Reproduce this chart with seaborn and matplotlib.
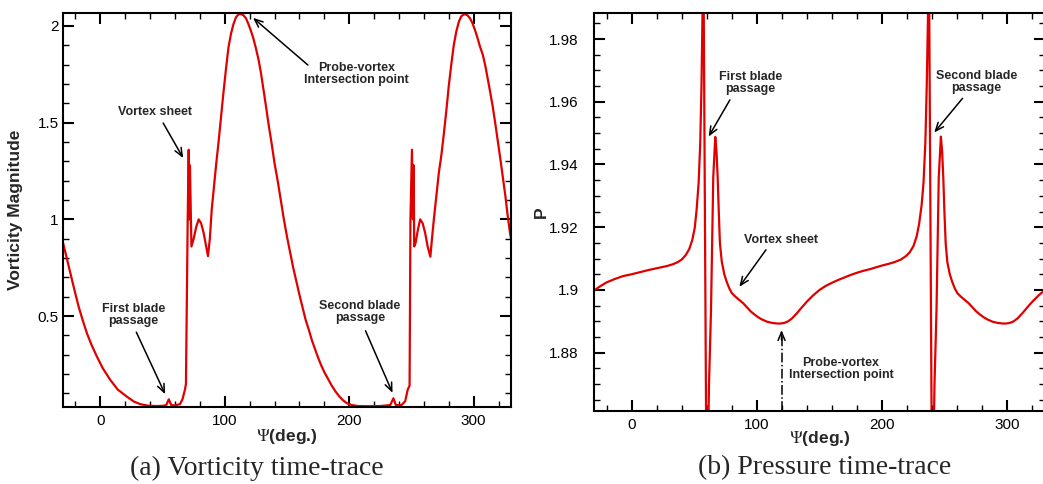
import numpy as np
import pandas as pd
import matplotlib
matplotlib.use("Agg")
import matplotlib.pyplot as plt
from matplotlib.ticker import MultipleLocator, FormatStrFormatter
import seaborn as sns

# ---------------- data ----------------
vort_psi = [-30, -27, -24, -21, -17.4, -14, -10.7, -7, -2.7, 2, 8, 14, 21.4, 27, 32, 38,
            45, 50, 53, 55, 57, 60, 64, 66, 68,
            68.8, 70.2, 71.0, 71.6, 72.0, 73.2, 75, 77, 79, 81, 83, 85, 86.5,
            88, 89.5, 91, 93, 95, 97, 99, 101, 103, 105, 107, 109, 111, 113, 115, 117, 119,
            121, 123, 125, 127, 129, 131, 133, 135, 137.7, 140, 142.5, 145, 147.5, 150,
            152.5, 155, 157.5, 160, 162.5, 165, 167.5, 170, 172.5, 175, 177.5, 180, 183,
            186, 189, 192, 195, 198, 202, 207, 215, 225, 233, 235.5, 237.5, 242, 245, 247, 248.5,
            249.2, 250.4, 251.2, 251.8, 252.2, 253.4, 255, 257, 259, 261, 263, 265.2,
            266.5, 268, 270, 272, 274, 276, 278, 280, 282, 284, 286, 288, 290, 292.7, 295,
            297, 299, 301, 303, 305, 307.4, 309.5, 311.5, 313.5, 315.4, 317.5, 319.5, 321.5,
            323.4, 325.5, 327.5, 329, 330]
vort_mag = [0.88, 0.8, 0.72, 0.64, 0.548, 0.475, 0.41, 0.35, 0.29, 0.23, 0.17, 0.12, 0.083, 0.058, 0.045, 0.037,
            0.035, 0.036, 0.04, 0.07, 0.04, 0.038, 0.045, 0.07, 0.12,
            0.15, 1.0, 1.36, 1.0, 1.28, 0.86, 0.9, 0.96, 1.0, 0.98, 0.93, 0.86, 0.81,
            0.9, 1.05, 1.15, 1.28, 1.40, 1.53, 1.66, 1.78, 1.89, 1.96, 2.01, 2.045, 2.06, 2.062, 2.055, 2.04, 2.01,
            1.975, 1.935, 1.885, 1.83, 1.76, 1.675, 1.59, 1.5, 1.39, 1.29, 1.2, 1.1, 1.0, 0.91,
            0.83, 0.75, 0.68, 0.61, 0.545, 0.48, 0.43, 0.375, 0.33, 0.285, 0.245, 0.21, 0.175,
            0.14, 0.11, 0.085, 0.065, 0.05, 0.04, 0.035, 0.034, 0.035, 0.04, 0.075, 0.04, 0.04, 0.06, 0.12, 0.14,
            1.0, 1.36, 1.0, 1.28, 0.86, 0.88, 0.94, 1.0, 0.98, 0.93, 0.86, 0.807,
            0.9, 1.0, 1.12, 1.24, 1.33, 1.44, 1.56, 1.69, 1.8, 1.9, 1.97, 2.02, 2.05, 2.062, 2.055,
            2.04, 2.015, 1.98, 1.94, 1.895, 1.85, 1.79, 1.72, 1.65, 1.58, 1.49, 1.4, 1.31,
            1.22, 1.12, 1.01, 0.94, 0.9]

pres_psi = [-30, -25, -20, -14, -7, 0, 7, 14, 21, 28, 33, 37, 40, 43, 46, 48.5, 50.5, 52, 53.5,
            54.8, 55.8, 56.5, 57.3, 59.6, 60.8, 61.8, 63.4, 65.2, 66.8, 67.8, 68.7, 69.6, 70.5,
            72, 74, 76, 78, 80, 83, 86, 89, 92, 95, 98, 101, 104, 108, 112, 116, 119, 122, 125,
            128, 132, 136, 140, 145, 150, 155, 160, 165, 170, 175, 180, 185, 190, 195, 200, 205,
            210, 215, 219, 222, 225, 227.5, 229.5, 231.5, 233, 234.5, 235.6, 236.5, 237.3,
            239.6, 240.8, 241.8, 243.4, 245.2, 246.9, 247.9, 248.8, 249.7, 250.7, 252, 254,
            256, 258, 260, 263, 266, 269, 272, 275, 278, 281, 284, 288, 292, 296, 299, 302,
            305, 308, 312, 316, 320, 325, 330]
pres_val = [1.8998, 1.9012, 1.9024, 1.9034, 1.9044, 1.905, 1.9057, 1.9064, 1.907, 1.9076, 1.9082, 1.9089, 1.9097, 1.911, 1.913, 1.916, 1.92, 1.926, 1.934,
            1.9468, 1.965, 1.985, 2.01, 1.85, 1.845, 1.87, 1.8936, 1.936, 1.9488, 1.944, 1.936, 1.925, 1.915,
            1.909, 1.905, 1.9025, 1.9005, 1.899, 1.8978, 1.8968, 1.8958, 1.8945, 1.8932, 1.8922, 1.8913, 1.8906, 1.8899, 1.8895, 1.8893, 1.8893, 1.8895, 1.8900,
            1.8909, 1.8926, 1.8945, 1.8963, 1.8983, 1.9, 1.9013, 1.9023, 1.9032, 1.904, 1.9048, 1.9055, 1.9061, 1.9066, 1.9072, 1.9078, 1.9083,
            1.9089, 1.9097, 1.9108, 1.912, 1.914, 1.917, 1.921, 1.927, 1.934, 1.947, 1.965, 1.985, 2.01,
            1.85, 1.845, 1.87, 1.8936, 1.936, 1.9489, 1.944, 1.936, 1.925, 1.915, 1.909, 1.905,
            1.9025, 1.9005, 1.899, 1.8978, 1.8968, 1.8958, 1.8945, 1.8932, 1.8922, 1.8913, 1.8906, 1.8899, 1.8895, 1.8893, 1.8893, 1.8895,
            1.8900, 1.8909, 1.8926, 1.8945, 1.8963, 1.8983, 1.9]

vort_yticks = [0.5, 1, 1.5, 2]
pres_yticks = [1.88, 1.9, 1.92, 1.94, 1.96, 1.98]
xticks = [0, 100, 200, 300]

# ---------------- style ----------------
sns.set_style("ticks")
plt.rcParams['font.family'] = ['Liberation Sans', 'DejaVu Sans']
plt.rcParams['mathtext.fontset'] = 'stix'

RED = '#e00000'
W, H = 1043, 484
fig = plt.figure(figsize=(W / 100, H / 100), dpi=100)

def px_axes(x0, y0, x1, y1):
    return fig.add_axes([x0 / W, 1 - y1 / H, (x1 - x0) / W, (y1 - y0) / H])

axL = px_axes(63, 13, 511, 407)
axR = px_axes(594, 13, 1045, 410.7)

dfv = pd.DataFrame({'psi': vort_psi, 'w': vort_mag})
dfp = pd.DataFrame({'psi': pres_psi, 'p': pres_val})
sns.lineplot(data=dfv, x='psi', y='w', ax=axL, sort=False, estimator=None, color=RED, lw=1.6)
sns.lineplot(data=dfp, x='psi', y='p', ax=axR, sort=False, estimator=None, color=RED, lw=1.6)

axL.set_xlim(-30, 330)
axL.set_ylim(0.03, 2.067)
axR.set_xlim(-30, 330)
axR.set_ylim(1.8615, 1.9883)

for ax, yt, ymin, ypad in [(axL, vort_yticks, 0.1, 3), (axR, pres_yticks, 0.005, 11)]:
    ax.set_xticks(xticks)
    ax.set_yticks(yt)
    ax.xaxis.set_minor_locator(MultipleLocator(20))
    ax.yaxis.set_minor_locator(MultipleLocator(ymin))
    ax.yaxis.set_major_formatter(FormatStrFormatter('%g'))
    ax.tick_params(which='both', direction='in', top=True, right=True, colors='black')
    ax.tick_params(which='major', length=8, width=1.5, labelsize=11)
    ax.tick_params(which='minor', length=4.5, width=1.0)
    ax.tick_params(axis='x', which='major', pad=5)
    ax.tick_params(axis='y', which='major', pad=ypad)
    for s in ax.spines.values():
        s.set_linewidth(1.5)
        s.set_color('black')
    ax.set_xlabel(r'$\Psi$(deg.)', fontsize=12.5, fontweight='bold')

axL.xaxis.set_label_coords(0.5, -0.05)
axR.xaxis.set_label_coords(0.5, -0.046)
axL.set_ylabel('Vorticity Magnitude', fontsize=12.5, fontweight='bold')
axL.yaxis.set_label_coords(-0.089, 0.5)
axR.set_ylabel('P', fontsize=12.5, fontweight='bold')
axR.yaxis.set_label_coords(-0.10, 0.5)

ann = dict(fontsize=9, fontweight='bold', ha='center', va='center', linespacing=1.0)
arr = dict(arrowstyle='->, head_length=0.6, head_width=0.25', color='black', lw=1.1,
           shrinkA=0, shrinkB=0)

# left panel annotations
axL.text(44.1, 1.557, 'Vortex sheet', **ann)
axL.annotate('', xy=(66.6, 1.317), xytext=(50.5, 1.498), arrowprops=arr)
axL.text(206, 1.752, 'Probe-vortex\nIntersection point', **ann)
axL.annotate('', xy=(122.7, 2.042), xytext=(166.8, 1.798), arrowprops=arr)
axL.text(26.5, 0.505, 'First blade\npassage', **ann)
axL.annotate('', xy=(52.1, 0.096), xytext=(28.9, 0.417), arrowprops=arr)
axL.text(208.5, 0.523, 'Second blade\npassage', **ann)
axL.annotate('', xy=(234.8, 0.103), xytext=(213.1, 0.424), arrowprops=arr)

# right panel annotations
axR.text(94.7, 1.966, 'First blade\npassage', **ann)
axR.annotate('', xy=(61.5, 1.9489), xytext=(78.5, 1.9606), arrowprops=arr)
axR.text(275.5, 1.9662, 'Second blade\npassage', **ann)
axR.annotate('', xy=(241.6, 1.9502), xytext=(264.2, 1.9611), arrowprops=arr)
axR.text(119.2, 1.916, 'Vortex sheet', **ann)
axR.annotate('', xy=(86, 1.901), xytext=(107.3, 1.9128), arrowprops=arr)
axR.text(167.1, 1.8748, 'Probe-vortex\nIntersection point', **ann)
axR.plot([119.7, 119.7], [1.8615, 1.8855], color='black', lw=1.1, ls='-.')
axR.annotate('', xy=(119.7, 1.8872), xytext=(119.7, 1.8840), arrowprops=arr)

# captions
serif = ['Liberation Serif', 'DejaVu Serif']
fig.text(256.7 / W, 1 - 468 / H, '(a) Vorticity time-trace', family=serif,
         fontsize=20, ha='center', va='center')
fig.text(825 / W, 1 - 468 / H, '(b) Pressure time-trace', family=serif,
         fontsize=20, ha='center', va='center')

fig.savefig('out.png', dpi=100, facecolor='white')
